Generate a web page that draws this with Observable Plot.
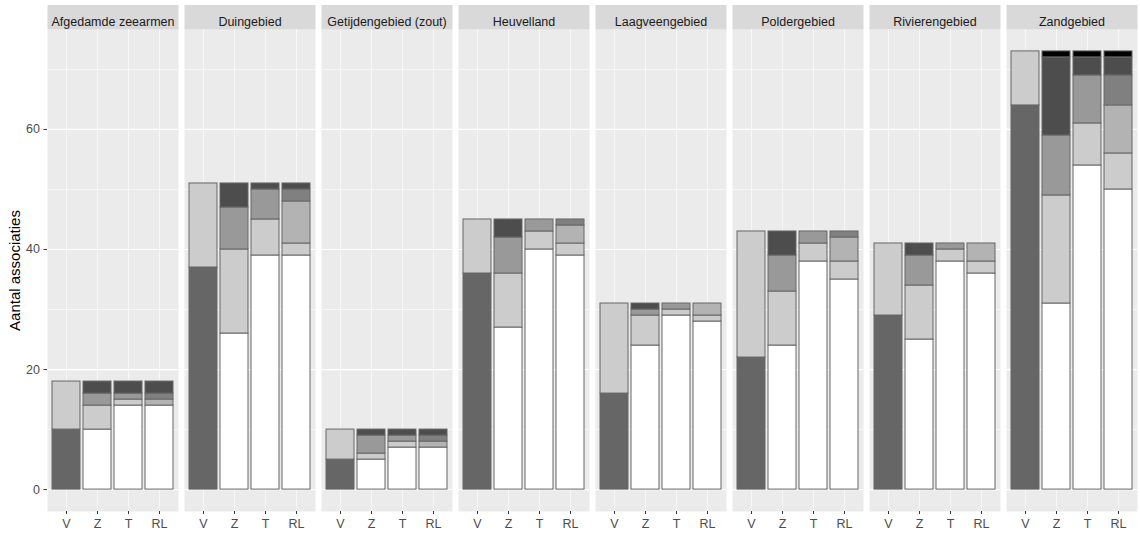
<!DOCTYPE html>
<html>
<head>
<meta charset="utf-8">
<script src="https://cdn.jsdelivr.net/npm/d3@7"></script>
<script src="https://cdn.jsdelivr.net/npm/@observablehq/plot@0.6"></script>
<style>
  body { margin: 0; background: #fff; }
</style>
</head>
<body>
<div id="chart"></div>
<script>
// ---- data ----
const gebieden = ["Afgedamde zeearmen", "Duingebied", "Getijdengebied (zout)", "Heuvelland",
                  "Laagveengebied", "Poldergebied", "Rivierengebied", "Zandgebied"];
const staven = ["V", "Z", "T", "RL"];

// stacking classes (bottom to top) and their fills
const klassen = ["V1", "V2", "K0", "K1", "K2", "K3", "K4", "K5", "K6"];
const kleuren = ["#666666", "#CCCCCC", "#FFFFFF", "#CCCCCC", "#B3B3B3", "#999999", "#808080", "#4D4D4D", "#000000"];

// V bars: two classes
const vKlassen = ["V1", "V2"];
const vWaarden = [
  [10, 8], [37, 14], [5, 5], [36, 9], [16, 15], [22, 21], [29, 12], [64, 9]
];
// Z and T bars
const ztKlassen = ["K0", "K1", "K3", "K5", "K6"];
const zWaarden = [
  [10, 4, 2, 2, 0], [26, 14, 7, 4, 0], [5, 1, 3, 1, 0], [27, 9, 6, 3, 0],
  [24, 5, 1, 1, 0], [24, 9, 6, 4, 0], [25, 9, 5, 2, 0], [31, 18, 10, 13, 1]
];
const tWaarden = [
  [14, 1, 1, 2, 0], [39, 6, 5, 1, 0], [7, 1, 1, 1, 0], [40, 3, 2, 0, 0],
  [29, 1, 1, 0, 0], [38, 3, 2, 0, 0], [38, 2, 1, 0, 0], [54, 7, 8, 3, 1]
];
// RL bars
const rlKlassen = ["K0", "K1", "K2", "K4", "K5", "K6"];
const rlWaarden = [
  [14, 0, 1, 1, 2, 0], [39, 2, 7, 2, 1, 0], [7, 0, 1, 1, 1, 0], [39, 2, 3, 1, 0, 0],
  [28, 1, 2, 0, 0, 0], [35, 3, 4, 1, 0, 0], [36, 2, 3, 0, 0, 0], [50, 6, 8, 5, 3, 1]
];

const yMajor = [0, 20, 40, 60];
const yMinor = [10, 30, 50, 70];

// ---- table ----
const rows = [];
function add(staaf, ks, waarden) {
  gebieden.forEach((g, i) => {
    ks.forEach((k, j) => {
      const v = waarden[i][j];
      if (v > 0) rows.push({gebied: g, staaf, klasse: k, aantal: v});
    });
  });
}
add("V", vKlassen, vWaarden);
add("Z", ztKlassen, zWaarden);
add("T", ztKlassen, tWaarden);
add("RL", rlKlassen, rlWaarden);

const W = 1140, H = 535, mT = 29, mB = 24, mL = 46, mR = 3;
const ymax = 73;
const pad = ymax * 0.05;

const plot = Plot.plot({
  width: W,
  height: H,
  marginTop: mT,
  marginBottom: mB,
  marginLeft: mL,
  marginRight: mR,
  style: {fontFamily: "'Liberation Sans', Arial, sans-serif", fontSize: "12.5px", background: "#fff"},
  fx: {domain: gebieden, paddingInner: 0.045, paddingOuter: 0},
  x: {domain: staven, paddingInner: 0.1, paddingOuter: 0.15},
  y: {domain: [-pad, ymax + pad], nice: false},
  color: {type: "ordinal", domain: klassen, range: kleuren},
  marks: [
    Plot.frame({fill: "#EBEBEB"}),
    Plot.frame({fill: "#D9D9D9", insetTop: -24.5, insetBottom: H - mT - mB}),
    Plot.ruleY(yMinor, {stroke: "#fff", strokeWidth: 0.6}),
    Plot.ruleY(yMajor, {stroke: "#fff", strokeWidth: 1.2}),
    Plot.ruleX(staven, {x: d => d, stroke: "#fff", strokeWidth: 0.6}),
    Plot.barY(rows, {fx: "gebied", x: "staaf", y: "aantal", fill: "klasse", stroke: "#666666", strokeWidth: 1}),
    Plot.axisFx({anchor: "top", tickSize: 0, tickPadding: 4, label: null, fontSize: 12.5, fill: "#1A1A1A"}),
    Plot.axisX({tickSize: 3, tickPadding: 4.5, label: null, fontSize: 12.5, fill: "#4D4D4D", stroke: "#333333"}),
    Plot.axisY({ticks: yMajor, tickSize: 3.5, tickPadding: 4, label: null, fontSize: 12.5, fill: "#4D4D4D", stroke: "#333333"}),
    Plot.text(["Aantal associaties"], {fx: () => gebieden[0], text: d => d, frameAnchor: "left", textAnchor: "middle", dx: -32, rotate: -90, fontSize: 15, fill: "#000"})
  ]
});
document.getElementById("chart").appendChild(plot);
</script>
</body>
</html>
